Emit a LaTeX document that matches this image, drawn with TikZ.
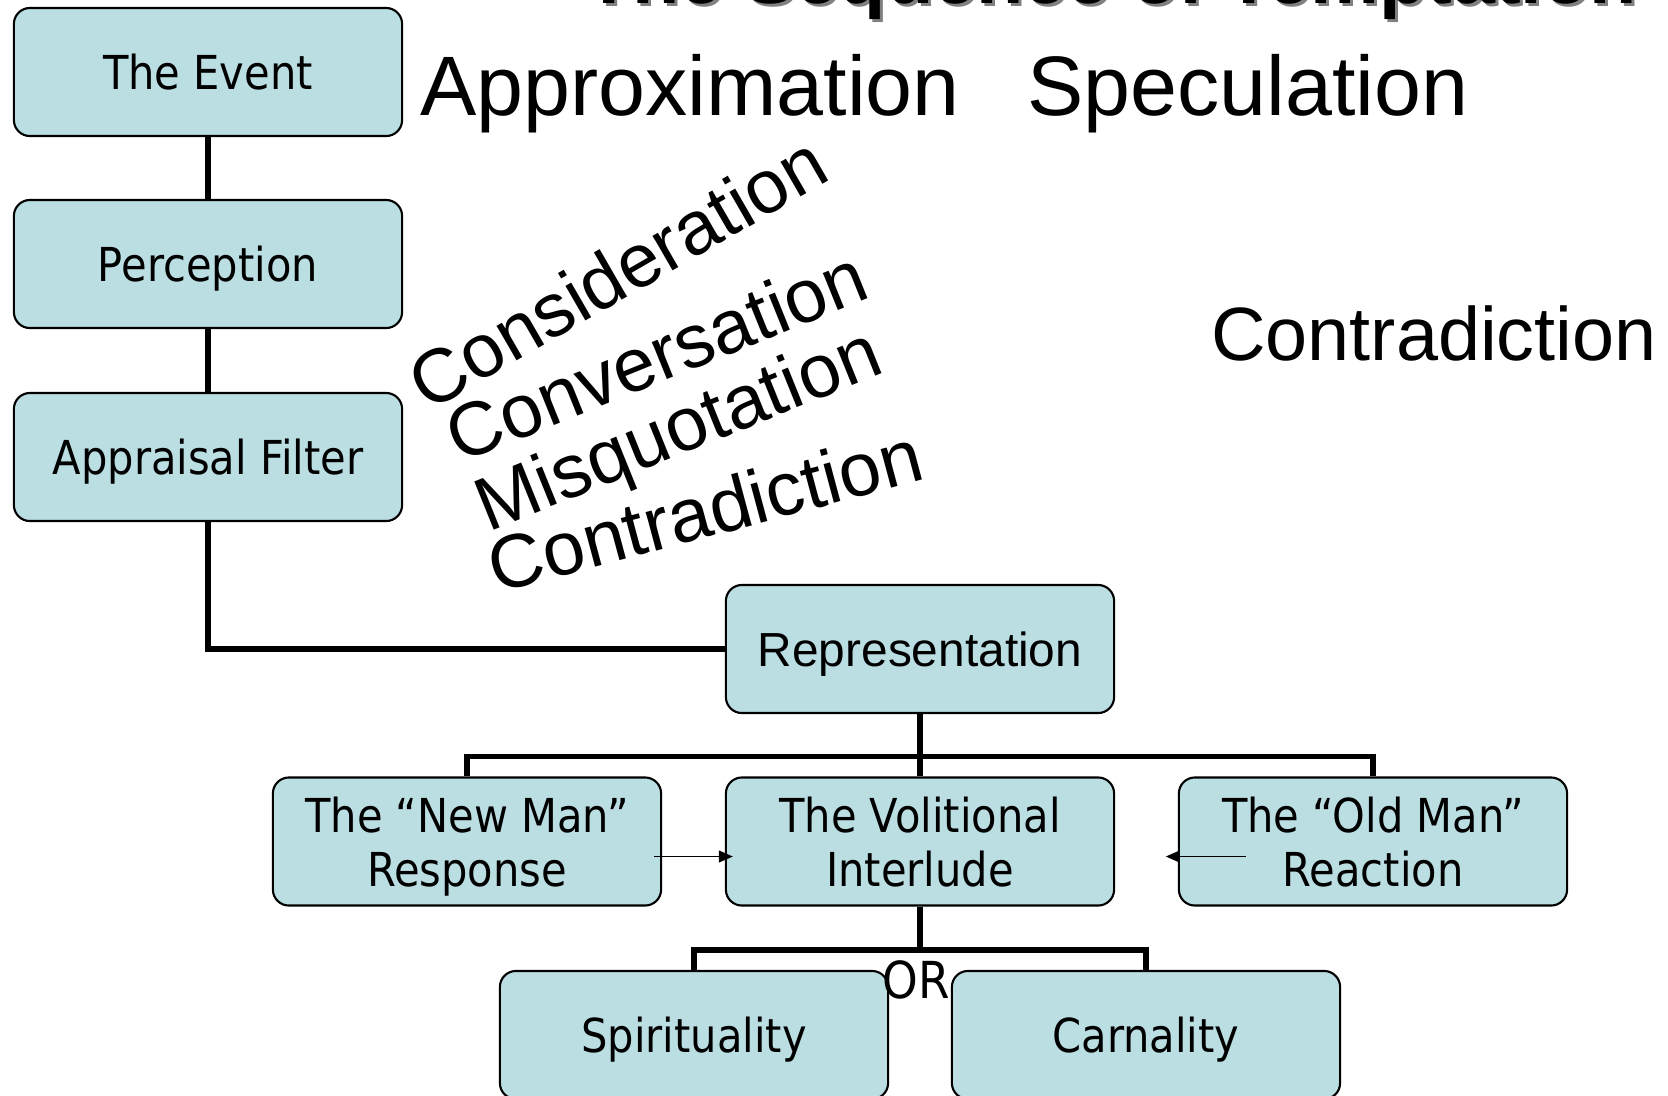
\documentclass[tikz,border=0pt]{standalone}
\usepackage{fontspec}
\setmainfont{Liberation Sans}
\newfontfamily\tahoma[FakeStretch=0.89]{DejaVu Sans}
\usetikzlibrary{arrows.meta}

\definecolor{boxblue}{RGB}{187,222,227}

\tikzset{
  stage/.style={draw, line width=0.6pt, fill=boxblue, rounded corners=0.16cm,
    minimum width=3.88cm, minimum height=1.28cm, inner sep=0pt, align=center,
    text depth=0pt, font=\tahoma\fontsize{13.3}{15.4}\selectfont},
  link/.style={line width=1.6pt},
  nudge/.style={-{Triangle[length=4pt,width=3.4pt]}, line width=0.4pt},
  bigword/.style={font=\fontsize{24}{28}\selectfont, inner sep=0pt},
  slantword/.style={font=\fontsize{21.5}{25}\selectfont, inner sep=0pt},
  headline/.style={font=\bfseries\fontsize{22}{26}\selectfont, anchor=base},
}

\begin{document}
\begin{tikzpicture}[x=0.01cm, y=-0.01cm]
    \useasboundingbox (0,0) rectangle (1668,1096);
    \clip (0,0) rectangle (1668,1096);

    % Title, only its lower edge is on the page
    \node[headline, text=gray] (titleshadow) at (1114,6) {The Sequence of Temptation};
    \node[headline] (title) at (1111,3) {The Sequence of Temptation};

    % Left column of stages
    \foreach \name/\y/\txt in {ev/72/The Event, per/264/Perception, app/457/Appraisal Filter} {
        \node[stage] (\name) at (208,\y) {\txt};
    }
    \draw[link] (ev) -- (per);
    \draw[link] (per) -- (app);

    \node[stage, font=\fontsize{13.6}{16}\selectfont] (rep) at (920,649) {Representation};
    \draw[link] (app) |- (rep);

    % Middle row
    \node[stage] (nm) at (467,841.5) {The “New Man”\\Response};
    \node[stage] (vol) at (920,841.5) {The Volitional\\Interlude};
    \node[stage] (om) at (1373,841.5) {The “Old Man”\\Reaction};
    \draw[link] (rep) -- (vol);
    \draw[link] (nm.north) -- ++(0,-20) -| (om.north);

    \draw[nudge] ([shift={(-8,15)}]nm.east) -- ([shift={(8,15)}]vol.west);
    \draw[nudge] ([shift={(68,15)}]om.west) -- ([shift={(-12,15)}]om.west);

    % Bottom row
    \node[stage] (sp) at (694,1035) {Spirituality};
    \node[stage] (ca) at (1146,1035) {Carnality};
    \draw[link] (vol.south) -- ++(0,45.5);
    \draw[link] (sp.north) -- ++(0,-20) -| (ca.north);
    \node[font=\tahoma\fontsize{14.5}{17}\selectfont, inner sep=0pt] (or) at (916,980) {OR};

    % Words round the stages
    \node[bigword, anchor=base] (approx) at (690,115) {Approximation};
    \node[bigword, anchor=base] (spec) at (1248,115) {Speculation};
    \node[slantword, anchor=base] (contra) at (1434,360) {Contradiction};

    \foreach \name/\x/\y/\ang/\txt in {cons/617/272/30/Consideration, conv/656/355/22/Conversation,
                                       misq/680/434/22/Misquotation, contr/705/510/15/Contradiction} {
        \node[slantword, rotate=\ang] (\name) at (\x,\y) {\txt};
    }
\end{tikzpicture}
\end{document}
